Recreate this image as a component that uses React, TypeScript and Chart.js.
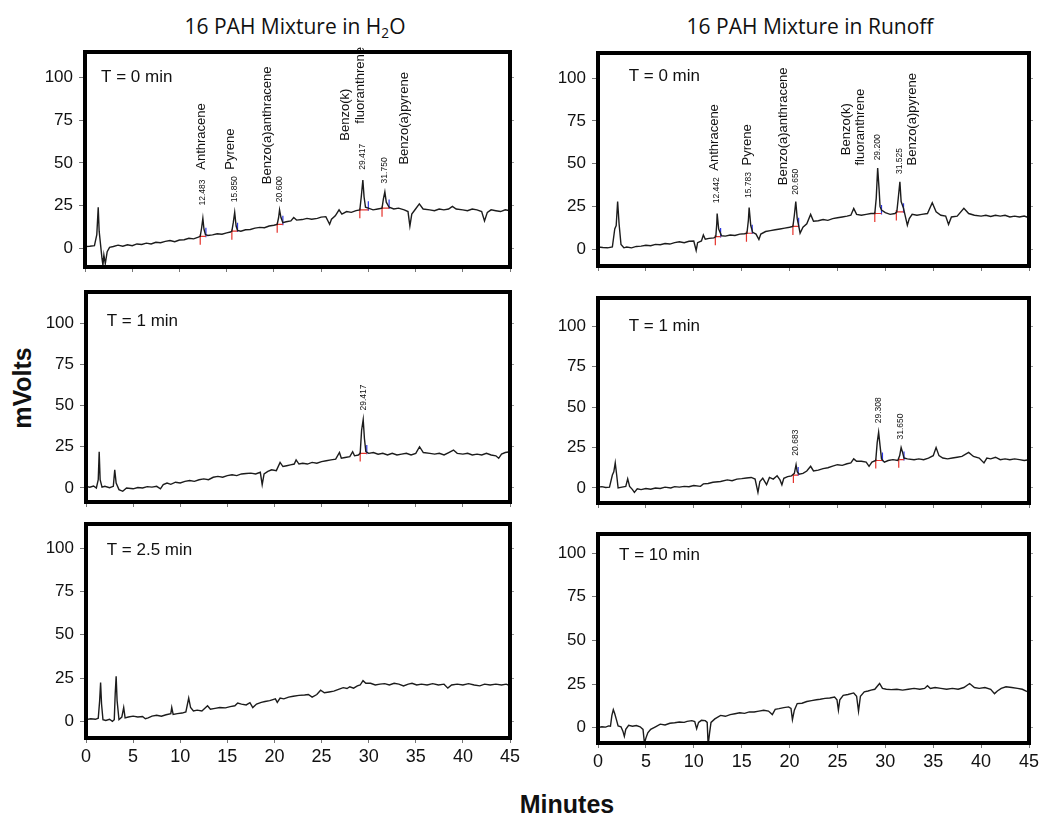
import React, { useEffect, useRef } from "react";
import { Chart, registerables } from "chart.js";

Chart.register(...registerables);

// ---------- tick labels ----------
const xTicks = [0, 5, 10, 15, 20, 25, 30, 35, 40, 45];
const yTicks = [0, 25, 50, 75, 100];

// ---------- traces: [minutes, mVolts] ----------
const h2oT0: [number, number][] = [
  [0, 1], [0.5, 1.2], [1.0, 1.5], [1.25, 8], [1.4, 24], [1.5, 10], [1.65, 2], [1.8, -6], [1.9, -10], [2.0, -4], [2.15, -9], [2.35, -2], [2.6, 0.5], [3, 1], [3.5, 1.8], [4, 1.2], [4.5, 2], [5, 1.5], [5.5, 2.5], [6, 2.2], [6.5, 3], [7, 2.5], [7.5, 3.5], [8, 3.2], [8.5, 4], [9, 4.5], [9.5, 3.8], [10, 4.8], [10.5, 5], [11, 5.8], [11.5, 5.5], [12, 6.5], [12.2, 7], [12.35, 12], [12.48, 17.5], [12.6, 11], [12.75, 8], [13, 7.5], [13.5, 7.8], [14, 8.5], [14.5, 8.2], [15, 9], [15.4, 9.5], [15.55, 10], [15.7, 15], [15.85, 21], [16.0, 13], [16.15, 10.5], [16.5, 10], [17, 10.8], [17.5, 11], [18, 11.8], [18.5, 12.2], [19, 12], [19.5, 13], [20, 13.5], [20.35, 14], [20.5, 18], [20.6, 22.5], [20.75, 18], [20.95, 15], [21.3, 15.5], [21.8, 16], [22.1, 18], [22.4, 16.5], [23, 16.8], [23.5, 17.5], [24, 17], [24.6, 17.5], [25, 18.2], [25.5, 18.5], [25.9, 14], [26.1, 17], [26.5, 19], [26.9, 22.5], [27.2, 20], [27.7, 21.5], [28.2, 21], [28.7, 22], [29.1, 22.5], [29.25, 30], [29.42, 40], [29.55, 30], [29.7, 24], [30, 23.5], [30.5, 22.5], [31, 23], [31.45, 23.5], [31.6, 29], [31.75, 33], [31.9, 27], [32.2, 24], [32.7, 23], [33.2, 23.5], [33.8, 22.5], [34.2, 21.5], [34.4, 13], [34.6, 20], [35, 23], [35.4, 26], [35.8, 23], [36.5, 22.5], [37, 22], [37.5, 23], [38, 22.5], [38.5, 23], [38.9, 24.5], [39.3, 23], [40, 22.5], [40.5, 22], [41, 23], [41.5, 22.5], [42, 21.5], [42.3, 16], [42.6, 21], [43, 22.5], [43.5, 22], [44, 21.5], [44.5, 22.5], [45, 22],
];

const runoffT0: [number, number][] = [
  [0, 1.5], [0.5, 1.2], [1, 1], [1.5, 1.5], [1.75, 12], [1.9, 14], [2.05, 28], [2.2, 15], [2.4, 3], [2.7, 1], [3, 1.5], [3.5, 1], [4, 1.8], [4.5, 2], [5, 2.5], [5.5, 2.2], [6, 3], [6.5, 2.8], [7, 3.5], [7.5, 3.2], [8, 4], [8.5, 4.5], [9, 4], [9.5, 4.8], [10, 5], [10.25, -0.5], [10.4, 4], [10.8, 5], [11, 8.5], [11.2, 6], [11.6, 6.5], [12.1, 6.8], [12.3, 7.5], [12.4, 15], [12.44, 21], [12.6, 12], [12.9, 8], [13.3, 7.8], [13.8, 8.5], [14.3, 8.2], [14.8, 9], [15.3, 9.2], [15.55, 9.5], [15.7, 17], [15.78, 24.5], [15.95, 14], [16.15, 10], [16.5, 9], [16.8, 5.8], [17, 9], [17.5, 10.5], [18, 11], [18.5, 11.5], [19, 12], [19.5, 12.5], [20, 13], [20.35, 13.5], [20.5, 20], [20.65, 28], [20.8, 18], [20.95, 14], [21.1, 9.5], [21.4, 13], [21.8, 15], [22.2, 20.5], [22.5, 16.5], [23, 16.8], [23.5, 17.5], [24, 17], [24.5, 18], [25, 18.5], [25.5, 19], [26, 19.5], [26.4, 20], [26.7, 24], [27, 20.5], [27.5, 20], [28, 20.5], [28.5, 21], [28.9, 21], [29.05, 30], [29.2, 47.5], [29.35, 35], [29.45, 25], [29.6, 23], [30, 21.5], [30.5, 20.5], [31, 21], [31.2, 22], [31.35, 30], [31.52, 39.5], [31.65, 28], [31.9, 24], [32.1, 19], [32.3, 14.2], [32.5, 18], [32.8, 20.5], [33.3, 20], [33.8, 20.5], [34.4, 21], [34.9, 27.3], [35.3, 22], [35.8, 20], [36.3, 19.5], [36.6, 14.6], [36.9, 19], [37.5, 19.5], [38.2, 24], [38.7, 21], [39.3, 20], [40, 19.5], [40.5, 20], [41, 19.3], [41.5, 20], [42, 19.5], [42.5, 20], [43, 19], [43.5, 19.5], [44, 19], [44.5, 19.5], [45, 18.5],
];

const h2oT1: [number, number][] = [
  [0, 1], [0.4, 0.5], [0.8, 1.2], [1.1, 0], [1.3, 5], [1.4, 22], [1.5, 5], [1.7, 0.5], [2, 1], [2.5, 0.2], [2.9, 1], [3.05, 11], [3.2, 3], [3.5, -1], [3.9, -2], [4.3, 0], [5, -0.5], [5.5, 0.3], [6, 0], [6.5, 0.8], [7, 0.5], [7.5, 1], [7.9, -0.5], [8.2, 2], [8.6, 3], [9, 2.2], [9.5, 3.5], [10, 3], [10.5, 4], [11, 4.5], [11.5, 4], [12, 5], [12.5, 5.5], [13, 5], [13.5, 6.5], [14, 7], [14.5, 6.5], [15, 7.5], [15.5, 8], [16, 7.5], [16.5, 8.5], [17, 8.8], [17.5, 9], [18, 8.5], [18.5, 9.5], [18.7, 2], [18.9, 8.5], [19.3, 10], [19.7, 11], [20.2, 10.5], [20.6, 15.5], [20.9, 13], [21.3, 13.5], [21.7, 14], [22.1, 14.5], [22.3, 17], [22.6, 14.5], [23, 15], [23.5, 14.5], [24, 15.5], [24.5, 15], [25, 16], [25.5, 16.5], [26, 17], [26.5, 17.5], [26.9, 21.5], [27.1, 18], [27.5, 18.5], [28, 19], [28.3, 22], [28.5, 19.5], [28.9, 20], [29.1, 21], [29.25, 35], [29.42, 41.5], [29.55, 30], [29.7, 22], [30, 21], [30.5, 21.5], [31, 20.5], [31.5, 21], [32, 20], [32.5, 21], [33, 20], [33.5, 20.5], [34, 21], [34.5, 20], [35, 21], [35.4, 25], [35.8, 21.5], [36.5, 21], [37, 20.5], [37.5, 21], [38, 20], [38.5, 21.5], [39, 23], [39.4, 21], [40, 20.5], [40.5, 21], [41, 20], [41.5, 20.5], [42, 20], [42.5, 21], [43, 20], [43.5, 19.5], [43.8, 18], [44.1, 20.5], [44.5, 21.5], [45, 22],
];

const runoffT1: [number, number][] = [
  [0, 0.5], [0.4, 0.8], [0.8, 0.3], [1.2, 0.5], [1.5, 8], [1.65, 10], [1.8, 15.5], [1.95, 8], [2.1, 0], [2.5, 0.5], [2.9, 1], [3.1, 5.6], [3.3, 1], [3.6, -1], [3.8, -2.7], [4.1, -0.5], [4.5, -1], [5, -0.3], [5.5, -0.8], [6, 0], [6.5, -0.3], [7, 0.5], [7.6, 0], [8, 0.8], [8.5, 0.5], [9, 1], [9.5, 0.8], [10, 1.5], [10.7, 1], [11, 2.5], [11.5, 2.8], [12, 3.5], [12.8, 4], [13.5, 5], [14, 4.5], [14.5, 5.5], [15, 5.8], [15.5, 6.2], [16, 6.5], [16.4, 5.5], [16.7, -2.7], [16.9, 4], [17.2, 6], [17.6, 2], [17.9, 6.5], [18.3, 5.5], [18.7, 7.5], [19, 5], [19.2, 2], [19.4, 6], [19.8, 7], [20.2, 7.5], [20.5, 9], [20.68, 14.4], [20.8, 10], [21, 8.5], [21.4, 9], [21.8, 10.5], [22.2, 13.4], [22.5, 10.5], [23, 11], [23.5, 12], [24, 12.5], [24.5, 13.5], [25, 14.4], [25.5, 14], [26, 15], [26.4, 15.5], [26.7, 18], [27, 16.5], [27.5, 16.5], [28, 16], [28.3, 13.4], [28.6, 16], [29, 17], [29.15, 28], [29.3, 34.4], [29.45, 26], [29.6, 18], [29.9, 16], [30.3, 17], [30.8, 17.5], [31.3, 17], [31.5, 20], [31.65, 25], [31.8, 22], [31.95, 18.5], [32.3, 18], [33, 17.5], [33.5, 18], [34, 17.5], [34.5, 18.5], [35, 20], [35.3, 25], [35.6, 20], [36, 18.5], [36.5, 18], [37, 18.5], [37.5, 19], [38, 19.5], [38.7, 22], [39.2, 19.5], [39.8, 18.5], [40.3, 15.5], [40.6, 18.5], [41, 18], [41.5, 19], [42, 17.5], [42.5, 18], [43, 17.5], [43.5, 18], [44, 17.5], [44.5, 17], [45, 17.5],
];

const h2oT25: [number, number][] = [
  [0, 1], [0.5, 1.5], [1, 1.2], [1.3, 1.8], [1.45, 12], [1.55, 22.5], [1.65, 10], [1.8, 1], [2.1, 0.5], [2.5, 1.2], [2.8, 0], [3, 1], [3.1, 16], [3.2, 26], [3.3, 12], [3.5, 1], [3.8, 2.5], [4, 8], [4.15, 2], [4.5, 2.5], [5, 3], [5.5, 2.5], [6, 2.8], [6.3, 1.5], [6.6, 2], [7, 3], [7.5, 3.5], [8, 3], [8.5, 3.8], [9, 4.5], [9.1, 8], [9.25, 4], [9.7, 4.5], [10.2, 4.8], [10.6, 5.5], [10.9, 13.5], [11.1, 8], [11.4, 6], [11.8, 6.5], [12.3, 6], [12.9, 9], [13.2, 7], [13.7, 7.5], [14.2, 8], [14.8, 7.8], [15.3, 8.5], [15.8, 9], [16.1, 10.6], [16.5, 10], [17, 9.5], [17.4, 10.8], [17.7, 8], [18.1, 10], [18.6, 11], [19, 11.5], [19.5, 12], [20.1, 13], [20.3, 11], [20.6, 13.5], [21, 13], [21.5, 14], [22, 14.5], [22.6, 15], [23.2, 15.2], [23.6, 15.5], [24, 14], [24.5, 15.5], [24.9, 18], [25.3, 16.5], [25.8, 17], [26.3, 17.5], [26.8, 18.5], [27.3, 19.5], [27.7, 19], [28, 20], [28.4, 19.2], [28.8, 20.5], [29.1, 21], [29.4, 23.5], [29.7, 22], [30.2, 22], [30.7, 21], [31.2, 21.5], [31.7, 21.8], [32.2, 21], [32.7, 22], [33.2, 21.5], [33.7, 20.5], [34.2, 21.5], [34.6, 22], [35.1, 21], [35.6, 21.5], [36.2, 21], [36.8, 21.8], [37.4, 21], [38, 21.5], [38.4, 19.2], [38.8, 21], [39.4, 21.5], [40, 21], [40.6, 21.8], [41.2, 21], [41.8, 20.5], [42.3, 21.5], [42.9, 21], [43.5, 21.5], [44.1, 21], [44.6, 21.5], [45, 20.5],
];

const runoffT10: [number, number][] = [
  [0, 0], [0.4, 0.5], [0.8, 0.3], [1.1, 1], [1.3, 0.8], [1.45, 7], [1.6, 10.3], [1.75, 8], [1.9, 5], [2.1, 1], [2.4, 0.5], [2.6, -2], [2.75, -5], [2.9, -1], [3.2, 1.3], [3.6, 0.8], [4, 1.2], [4.4, 0.5], [4.7, -1], [4.85, -9], [5.0, -6], [5.2, -3], [5.5, -1], [6, 0.5], [6.5, 2], [7, 1.5], [7.5, 2.5], [8, 2.8], [8.5, 3.2], [9, 3], [9.3, 3.6], [9.8, 4], [10.1, 3.5], [10.3, -0.6], [10.5, 3], [10.8, 4.2], [11.2, 4], [11.4, 3], [11.5, -10], [11.65, -3], [11.8, 3], [12.2, 5], [12.8, 7], [13.3, 6.5], [13.8, 7.5], [14.3, 8], [14.8, 8.5], [15.3, 8.2], [15.8, 9], [16.3, 9], [16.8, 9.5], [17.3, 10], [17.8, 9.5], [18.2, 7.5], [18.5, 10.5], [18.9, 10.9], [19.4, 11.5], [19.9, 11.9], [20.15, 11], [20.3, 4.6], [20.5, 10], [20.8, 13.8], [21.3, 14], [21.8, 15], [22.3, 15.5], [22.8, 16], [23.2, 16.3], [23.7, 16.8], [24.2, 17], [24.7, 17.6], [24.95, 16], [25.1, 10], [25.25, 16], [25.6, 18.5], [26.1, 19], [26.7, 19.9], [27.0, 18], [27.2, 9.4], [27.4, 18], [27.8, 20.5], [28.2, 21], [28.5, 21.5], [28.9, 22], [29.2, 24], [29.4, 25.3], [29.7, 22.5], [30.1, 22], [30.6, 21.8], [31.2, 22], [31.8, 21.5], [32.4, 22], [33, 22.5], [33.6, 22], [34.1, 22.5], [34.4, 24], [34.7, 22.5], [35.2, 23], [35.8, 22.5], [36.4, 22], [37, 22.5], [37.6, 22], [38.2, 23], [38.8, 25.3], [39.3, 23], [39.8, 22.5], [40.4, 23], [41, 22], [41.4, 19.5], [41.7, 21], [42.1, 22.5], [42.6, 23.4], [43.2, 23], [43.8, 22.5], [44.3, 22], [44.7, 21], [45, 20],
];

// ---------- integration marks: [start, end, baseline] ----------
const h2oT0Peaks: [number, number, number][] = [
  [12.2, 12.8, 7], [15.55, 16.15, 10], [20.35, 20.95, 14], [29.1, 30.0, 22.5], [31.45, 32.2, 23.5],
];
const runoffT0Peaks: [number, number, number][] = [
  [12.25, 12.8, 7.5], [15.5, 16.1, 9.5], [20.35, 20.95, 13.5], [28.9, 29.6, 21], [31.15, 31.9, 22],
];
const h2oT1Peaks: [number, number, number][] = [[29.1, 29.8, 21]];
const runoffT1Peaks: [number, number, number][] = [
  [20.4, 20.9, 8], [29.0, 29.7, 17], [31.4, 31.95, 17.5],
];

// ---------- labels: [text, minutes, mVolts at text start] ----------
const h2oT0Names: [string, number, number][] = [
  ["Anthracene", 12.3, 46], ["Pyrene", 15.45, 46], ["Benzo(a)anthracene", 19.3, 37.5],
  ["Benzo(k)", 27.6, 63], ["fluoranthrene", 29.2, 73], ["Benzo(a)pyrene", 33.8, 49],
];
const h2oT0Times: [string, number, number][] = [
  ["12.483", 12.48, 25], ["15.850", 15.85, 27], ["20.600", 20.6, 27], ["29.417", 29.42, 46], ["31.750", 31.75, 38],
];
const runoffT0Names: [string, number, number][] = [
  ["Anthracene", 12.2, 46], ["Pyrene", 15.6, 49], ["Benzo(a)anthracene", 19.4, 37.5],
  ["Benzo(k)", 25.9, 55], ["fluoranthrene", 27.4, 49], ["Benzo(a)pyrene", 32.8, 49],
];
const runoffT0Times: [string, number, number][] = [
  ["12.442", 12.44, 27], ["15.783", 15.78, 30], ["20.650", 20.65, 32], ["29.200", 29.2, 52], ["31.525", 31.5, 44],
];
const h2oT1Times: [string, number, number][] = [["29.417", 29.42, 47]];
const runoffT1Times: [string, number, number][] = [
  ["20.683", 20.68, 20], ["29.308", 29.3, 40], ["31.650", 31.65, 30],
];

const panelLabels = ["T = 0 min", "T = 0 min", "T = 1 min", "T = 1 min", "T = 2.5 min", "T = 10 min"];

// ---------- layout ----------
type Box = { L: number; R: number; T: number; B: number };
type PanelCfg = {
  trace: [number, number][];
  peaks: [number, number, number][];
  names: [string, number, number][];
  times: [string, number, number][];
  label: string;
  labelAt: [number, number];
  yMin: number;
  yMax: number;
  box: Box;
  showX: boolean;
};

const panels: PanelCfg[] = [
  { trace: h2oT0, peaks: h2oT0Peaks, names: h2oT0Names, times: h2oT0Times, label: panelLabels[0], labelAt: [1.7, 100], yMin: -11, yMax: 115, box: { L: 85, R: 510, T: 52, B: 267 }, showX: false },
  { trace: runoffT0, peaks: runoffT0Peaks, names: runoffT0Names, times: runoffT0Times, label: panelLabels[1], labelAt: [3.2, 101], yMin: -9.6, yMax: 114.6, box: { L: 598, R: 1029, T: 53, B: 266 }, showX: false },
  { trace: h2oT1, peaks: h2oT1Peaks, names: [], times: h2oT1Times, label: panelLabels[2], labelAt: [2.2, 101], yMin: -8.5, yMax: 118.8, box: { L: 86, R: 510, T: 292, B: 502 }, showX: false },
  { trace: runoffT1, peaks: runoffT1Peaks, names: [], times: runoffT1Times, label: panelLabels[3], labelAt: [3.2, 100], yMin: -9.3, yMax: 117.5, box: { L: 598, R: 1029, T: 298, B: 503 }, showX: false },
  { trace: h2oT25, peaks: [], names: [], times: [], label: panelLabels[4], labelAt: [2.2, 99], yMin: -9.6, yMax: 114, box: { L: 86, R: 510, T: 524, B: 738 }, showX: true },
  { trace: runoffT10, peaks: [], names: [], times: [], label: panelLabels[5], labelAt: [2.2, 99], yMin: -8.8, yMax: 111, box: { L: 598, R: 1029, T: 534, B: 743 }, showX: true },
];

const YW = 60;
const RW = 18;
const PADT = 6;
const FONT = "'Liberation Sans', Arial, sans-serif";

function Panel({ cfg }: { cfg: PanelCfg }) {
  const ref = useRef<HTMLCanvasElement>(null);
  const xH = cfg.showX ? 36 : 10;
  const { L, R, T, B } = cfg.box;
  const width = YW + (R - L) + RW;
  const height = PADT + (B - T) + xH;

  useEffect(() => {
    const red: any[] = [];
    const blue: any[] = [];
    cfg.peaks.forEach(([s, e, b]) => {
      red.push({ x: s, y: b - 5 }, { x: s, y: b + 1 }, { x: s, y: null });
      red.push({ x: s, y: b }, { x: e, y: b }, { x: e, y: null });
      blue.push({ x: e, y: b - 0.5 }, { x: e, y: b + 5 }, { x: e, y: null });
    });

    const overlay = {
      id: "overlay",
      afterDatasetsDraw(chart: any) {
        const ctx = chart.ctx;
        const xs = chart.scales.x;
        const ys = chart.scales.y;
        ctx.save();
        ctx.fillStyle = "#111";
        const rot = (arr: [string, number, number][], font: string) => {
          ctx.font = font;
          ctx.textAlign = "left";
          ctx.textBaseline = "middle";
          arr.forEach(([txt, t, v]) => {
            ctx.save();
            ctx.translate(xs.getPixelForValue(t), ys.getPixelForValue(v));
            ctx.rotate(-Math.PI / 2);
            ctx.fillText(txt, 0, 0);
            ctx.restore();
          });
        };
        rot(cfg.names, `13px ${FONT}`);
        rot(cfg.times, `8.5px ${FONT}`);
        ctx.font = `17px ${FONT}`;
        ctx.textAlign = "left";
        ctx.textBaseline = "middle";
        ctx.fillText(cfg.label, xs.getPixelForValue(cfg.labelAt[0]), ys.getPixelForValue(cfg.labelAt[1]));
        const a = chart.chartArea;
        ctx.lineWidth = 4;
        ctx.strokeStyle = "#000";
        ctx.strokeRect(a.left, a.top, a.right - a.left, a.bottom - a.top);
        ctx.restore();
      },
    };

    const tickCb = (vals: number[]) => (s: any) => {
      s.ticks = vals.map((v) => ({ value: v }));
    };

    const chart = new Chart(ref.current as HTMLCanvasElement, {
      type: "scatter",
      data: {
        datasets: [
          {
            data: cfg.trace.map(([x, y]) => ({ x, y })),
            showLine: true,
            borderColor: "#1c1c1c",
            borderWidth: 1.4,
            pointRadius: 0,
          },
          {
            data: red,
            showLine: true,
            spanGaps: false,
            borderColor: "#e5322b",
            borderWidth: 1.2,
            pointRadius: 0,
          },
          {
            data: blue,
            showLine: true,
            spanGaps: false,
            borderColor: "#2b35e0",
            borderWidth: 1.2,
            pointRadius: 0,
          },
        ],
      } as any,
      options: {
        responsive: false,
        animation: false,
        events: [],
        layout: { padding: { top: PADT, left: 0, right: 0, bottom: 0 } },
        plugins: { legend: { display: false }, tooltip: { enabled: false } },
        scales: {
          x: {
            type: "linear",
            min: 0,
            max: 45,
            afterBuildTicks: tickCb(xTicks),
            afterFit: (s: any) => {
              s.height = xH;
              s.paddingLeft = 0;
              s.paddingRight = 0;
            },
            ticks: {
              display: cfg.showX,
              font: { family: FONT, size: 18 },
              color: "#111",
              padding: 3,
              maxRotation: 0,
            },
            grid: { drawOnChartArea: false, drawTicks: true, tickLength: 5, color: "#777" },
            border: { display: false },
          },
          y: {
            type: "linear",
            min: cfg.yMin,
            max: cfg.yMax,
            afterBuildTicks: tickCb(yTicks),
            afterFit: (s: any) => {
              s.width = YW;
              s.paddingTop = 0;
              s.paddingBottom = 0;
            },
            ticks: { font: { family: FONT, size: 17 }, color: "#111", padding: 6 },
            grid: { drawOnChartArea: false, drawTicks: true, tickLength: 6, color: "#777" },
            border: { display: false },
          },
          y2: {
            type: "linear",
            position: "right",
            min: cfg.yMin,
            max: cfg.yMax,
            afterBuildTicks: tickCb(yTicks),
            afterFit: (s: any) => {
              s.width = RW;
              s.paddingTop = 0;
              s.paddingBottom = 0;
            },
            ticks: { display: false },
            grid: { drawOnChartArea: false, drawTicks: true, tickLength: 4, color: "#999" },
            border: { display: false },
          },
        },
      } as any,
      plugins: [overlay],
    });
    return () => chart.destroy();
  }, []);

  return (
    <canvas
      ref={ref}
      width={width}
      height={height}
      style={{ position: "absolute", left: L - YW, top: T - PADT, width, height }}
    />
  );
}

export default function App() {
  const title: React.CSSProperties = {
    position: "absolute",
    top: 8,
    fontFamily: "'Open Sans', 'Noto Sans', sans-serif",
    fontSize: 21,
    lineHeight: "36px",
    color: "#111",
    whiteSpace: "nowrap",
    transform: "translateX(-50%)",
  };
  return (
    <div style={{ position: "absolute", left: 0, top: 0, width: 1054, height: 817, background: "#fff", overflow: "hidden" }}>
      <div style={{ ...title, left: 295 }}>
        16 PAH Mixture in H<sub style={{ fontSize: "0.65em", verticalAlign: "-0.3em", lineHeight: 0 }}>2</sub>O
      </div>
      <div style={{ ...title, left: 810 }}>16 PAH Mixture in Runoff</div>
      <div
        style={{
          position: "absolute",
          left: 22,
          top: 388,
          transform: "translate(-50%, -50%) rotate(-90deg)",
          fontFamily: FONT,
          fontWeight: "bold",
          fontSize: 25,
          color: "#111",
          whiteSpace: "nowrap",
        }}
      >
        mVolts
      </div>
      <div
        style={{
          position: "absolute",
          left: 567,
          top: 804,
          transform: "translate(-50%, -50%)",
          fontFamily: FONT,
          fontWeight: "bold",
          fontSize: 25,
          color: "#111",
          whiteSpace: "nowrap",
        }}
      >
        Minutes
      </div>
      {panels.map((p, i) => (
        <Panel key={i} cfg={p} />
      ))}
    </div>
  );
}
